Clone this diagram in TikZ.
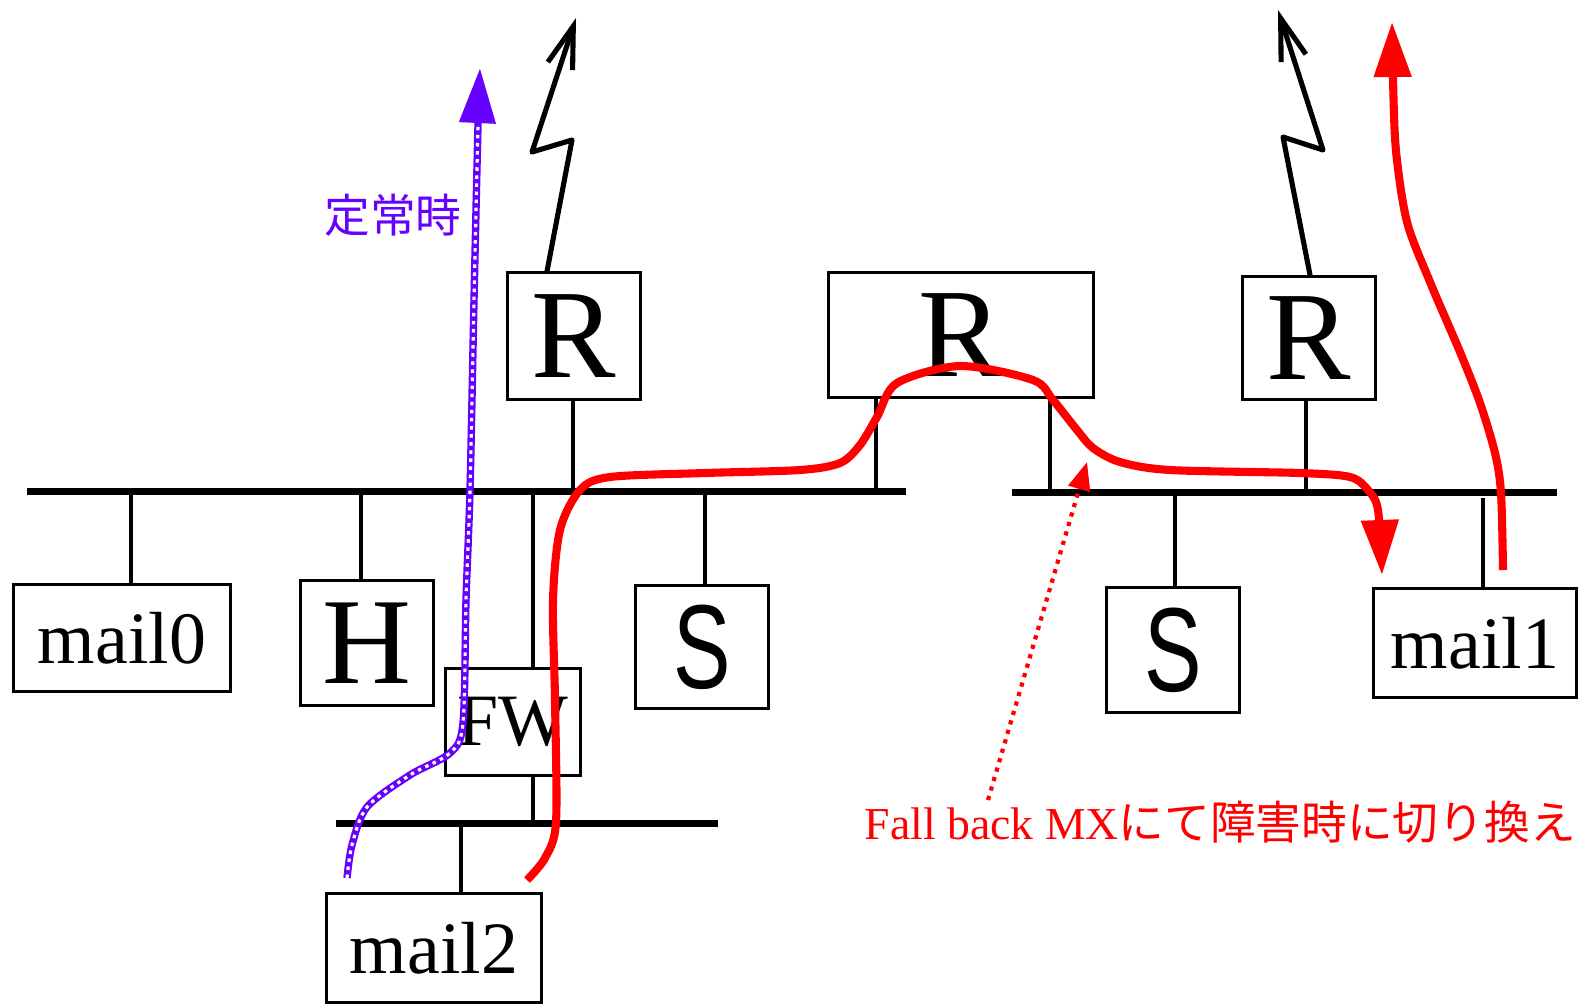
\documentclass[tikz,border=0pt]{standalone}
\usepackage{fontspec}
\setmainfont{Liberation Serif}
\newfontfamily\jpfont{Noto Sans CJK JP}
\newfontfamily\sfS{Liberation Sans}
\usetikzlibrary{arrows.meta,calc}

\definecolor{okviolet}{RGB}{102,0,255}

\begin{document}
\begin{tikzpicture}[
            x=0.01cm, y=-0.01cm,
            box/.style={draw, line width=0.85pt, inner sep=0pt},
            bus/.style={line width=2pt},
            tap/.style={line width=1.1pt},
            radio/.style={line width=1.45pt, line cap=round, line join=round,
                -{Straight Barb[length=0.42cm,width=0.26cm]}},
            flow/.style={red, line width=2.3pt,
                -{Triangle[length=0.55cm,width=0.36cm]}},
            rtext/.style={font=\fontsize{36}{40}\selectfont},
            htext/.style={font=\fontsize{35}{40}\selectfont},
            stext/.style={font=\sfS\fontsize{34}{40}\selectfont},
            mtext/.style={font=\fontsize{21}{24}\selectfont}
        ]
        \useasboundingbox (0,0) rectangle (1579,1005);

        \coordinate (bus1w) at (27,491);
        \coordinate (bus1e) at (906,491);
        \coordinate (bus2w) at (1012,492);
        \coordinate (bus2e) at (1557,492);
        \coordinate (bus3w) at (336,823);
        \coordinate (bus3e) at (718,823);
        \draw[bus] (bus1w) -- (bus1e);
        \draw[bus] (bus2w) -- (bus2e);
        \draw[bus] (bus3w) -- (bus3e);

        \node[box, mtext, minimum width=2.16cm, minimum height=1.07cm] (mail0) at (122,638) {mail0};
        \node[box, htext, minimum width=1.32cm, minimum height=1.24cm] (h) at (367,643) {H};
        \node[box, mtext, minimum width=1.35cm, minimum height=1.06cm] (fw) at (513,722) {FW};
        \node[box, stext, minimum width=1.32cm, minimum height=1.23cm] (s1) at (702,647) {\scalebox{0.72}[1]{S}};
        \node[box, rtext, minimum width=1.33cm, minimum height=1.26cm] (r1) at (574,336) {R};
        \node[box, rtext, minimum width=2.64cm, minimum height=1.24cm] (r2) at (961,335) {R};
        \node[box, rtext, minimum width=1.33cm, minimum height=1.23cm] (r3) at (1309,338) {R};
        \node[box, stext, minimum width=1.32cm, minimum height=1.24cm] (s2) at (1173,650) {\scalebox{0.72}[1]{S}};
        \node[box, mtext, minimum width=2.03cm, minimum height=1.08cm] (mail1) at (1475,643) {mail1};
        \node[box, mtext, minimum width=2.15cm, minimum height=1.09cm] (mail2) at (434,948) {mail2};

        \foreach \n/\a/\dx/\b in {mail0/north/0.09/bus1w, h/north/-0.06/bus1w,
                fw/north/0.2/bus1w, s1/north/0.03/bus1w, r1/south/-0.01/bus1w,
                r2/south/-0.85/bus1w, r2/south/0.89/bus2w, r3/south/-0.03/bus2w,
                s2/north/0.02/bus2w, fw/south/0.2/bus3w, mail2/north/0.27/bus3w} {
            \coordinate (tp) at ([xshift=\dx cm]\n.\a);
            \draw[tap] (tp) -- (tp |- \b);
        }
        \coordinate (tp) at ([xshift=0.08cm]mail1.north);
        \draw[tap] (tp) -- ++(0,-89);

        \draw[radio] ([xshift=-0.27cm]r1.north) -- (572,140) -- (532,152) -- (576,18);
        \draw[radio] ([xshift=0.01cm]r3.north) -- (1283,137) -- (1323,150) -- (1278,10);

        \node[text=okviolet, font=\jpfont\fontsize{13}{15}\selectfont] (oklabel) at (393,215) {定常時};
        \coordinate (okfrom) at (347,878);
        \coordinate (okto) at (480,68);
        \draw[okviolet, line width=2.1pt, -{Triangle[length=0.55cm,width=0.35cm]}]
            plot[smooth, tension=0.5] coordinates {(okfrom) (352,845) (367,807) (410,775)
                (450,753) (463,723) (466,600) (470,490) (474,300) (478,125) (okto)};
        \draw[white, line width=0.9pt, dash pattern=on 1pt off 1.3pt]
            plot[smooth, tension=0.5] coordinates {(okfrom) (352,845) (367,807) (410,775)
                (450,753) (463,723) (466,600) (470,490) (474,300) (478,125)};

        \coordinate (fbfrom) at (527,880);
        \coordinate (fbto) at (1382,575);
        \draw[flow] plot[smooth, tension=0.5] coordinates {(fbfrom) (545,858) (556,822)
            (555,700) (553,600) (560,530) (580,490) (610,477) (705,473) (800,470)
            (840,463) (860,445) (877,417) (897,383) (960,366) (1033,380) (1053,400)
            (1077,430) (1093,448) (1120,462) (1170,470) (1300,473) (1350,477)
            (1368,490) (1378,510) (fbto)};

        \coordinate (upfrom) at (1503,570);
        \coordinate (upto) at (1392,22);
        \draw[flow] plot[smooth, tension=0.5] coordinates {(upfrom) (1501,493) (1495,453)
            (1480,403) (1460,352) (1430,282) (1407,222) (1396,151) (1393,80) (upto)};

        \node[anchor=base west, inner sep=0pt, text=red, font=\fontsize{13}{15}\selectfont]
            (fbnote) at (864,839) {Fall back MX{\jpfont にて障害時に切り換え}};
        \coordinate (fbtail) at (988,800);
        \coordinate (fbtip) at (1087,462);
        \draw[red, line width=1.2pt, dash pattern=on 1.2pt off 1.6pt,
            -{Triangle[length=0.28cm,width=0.22cm]}] (fbtail) -- (fbtip);
        \end{tikzpicture}
\end{document}
